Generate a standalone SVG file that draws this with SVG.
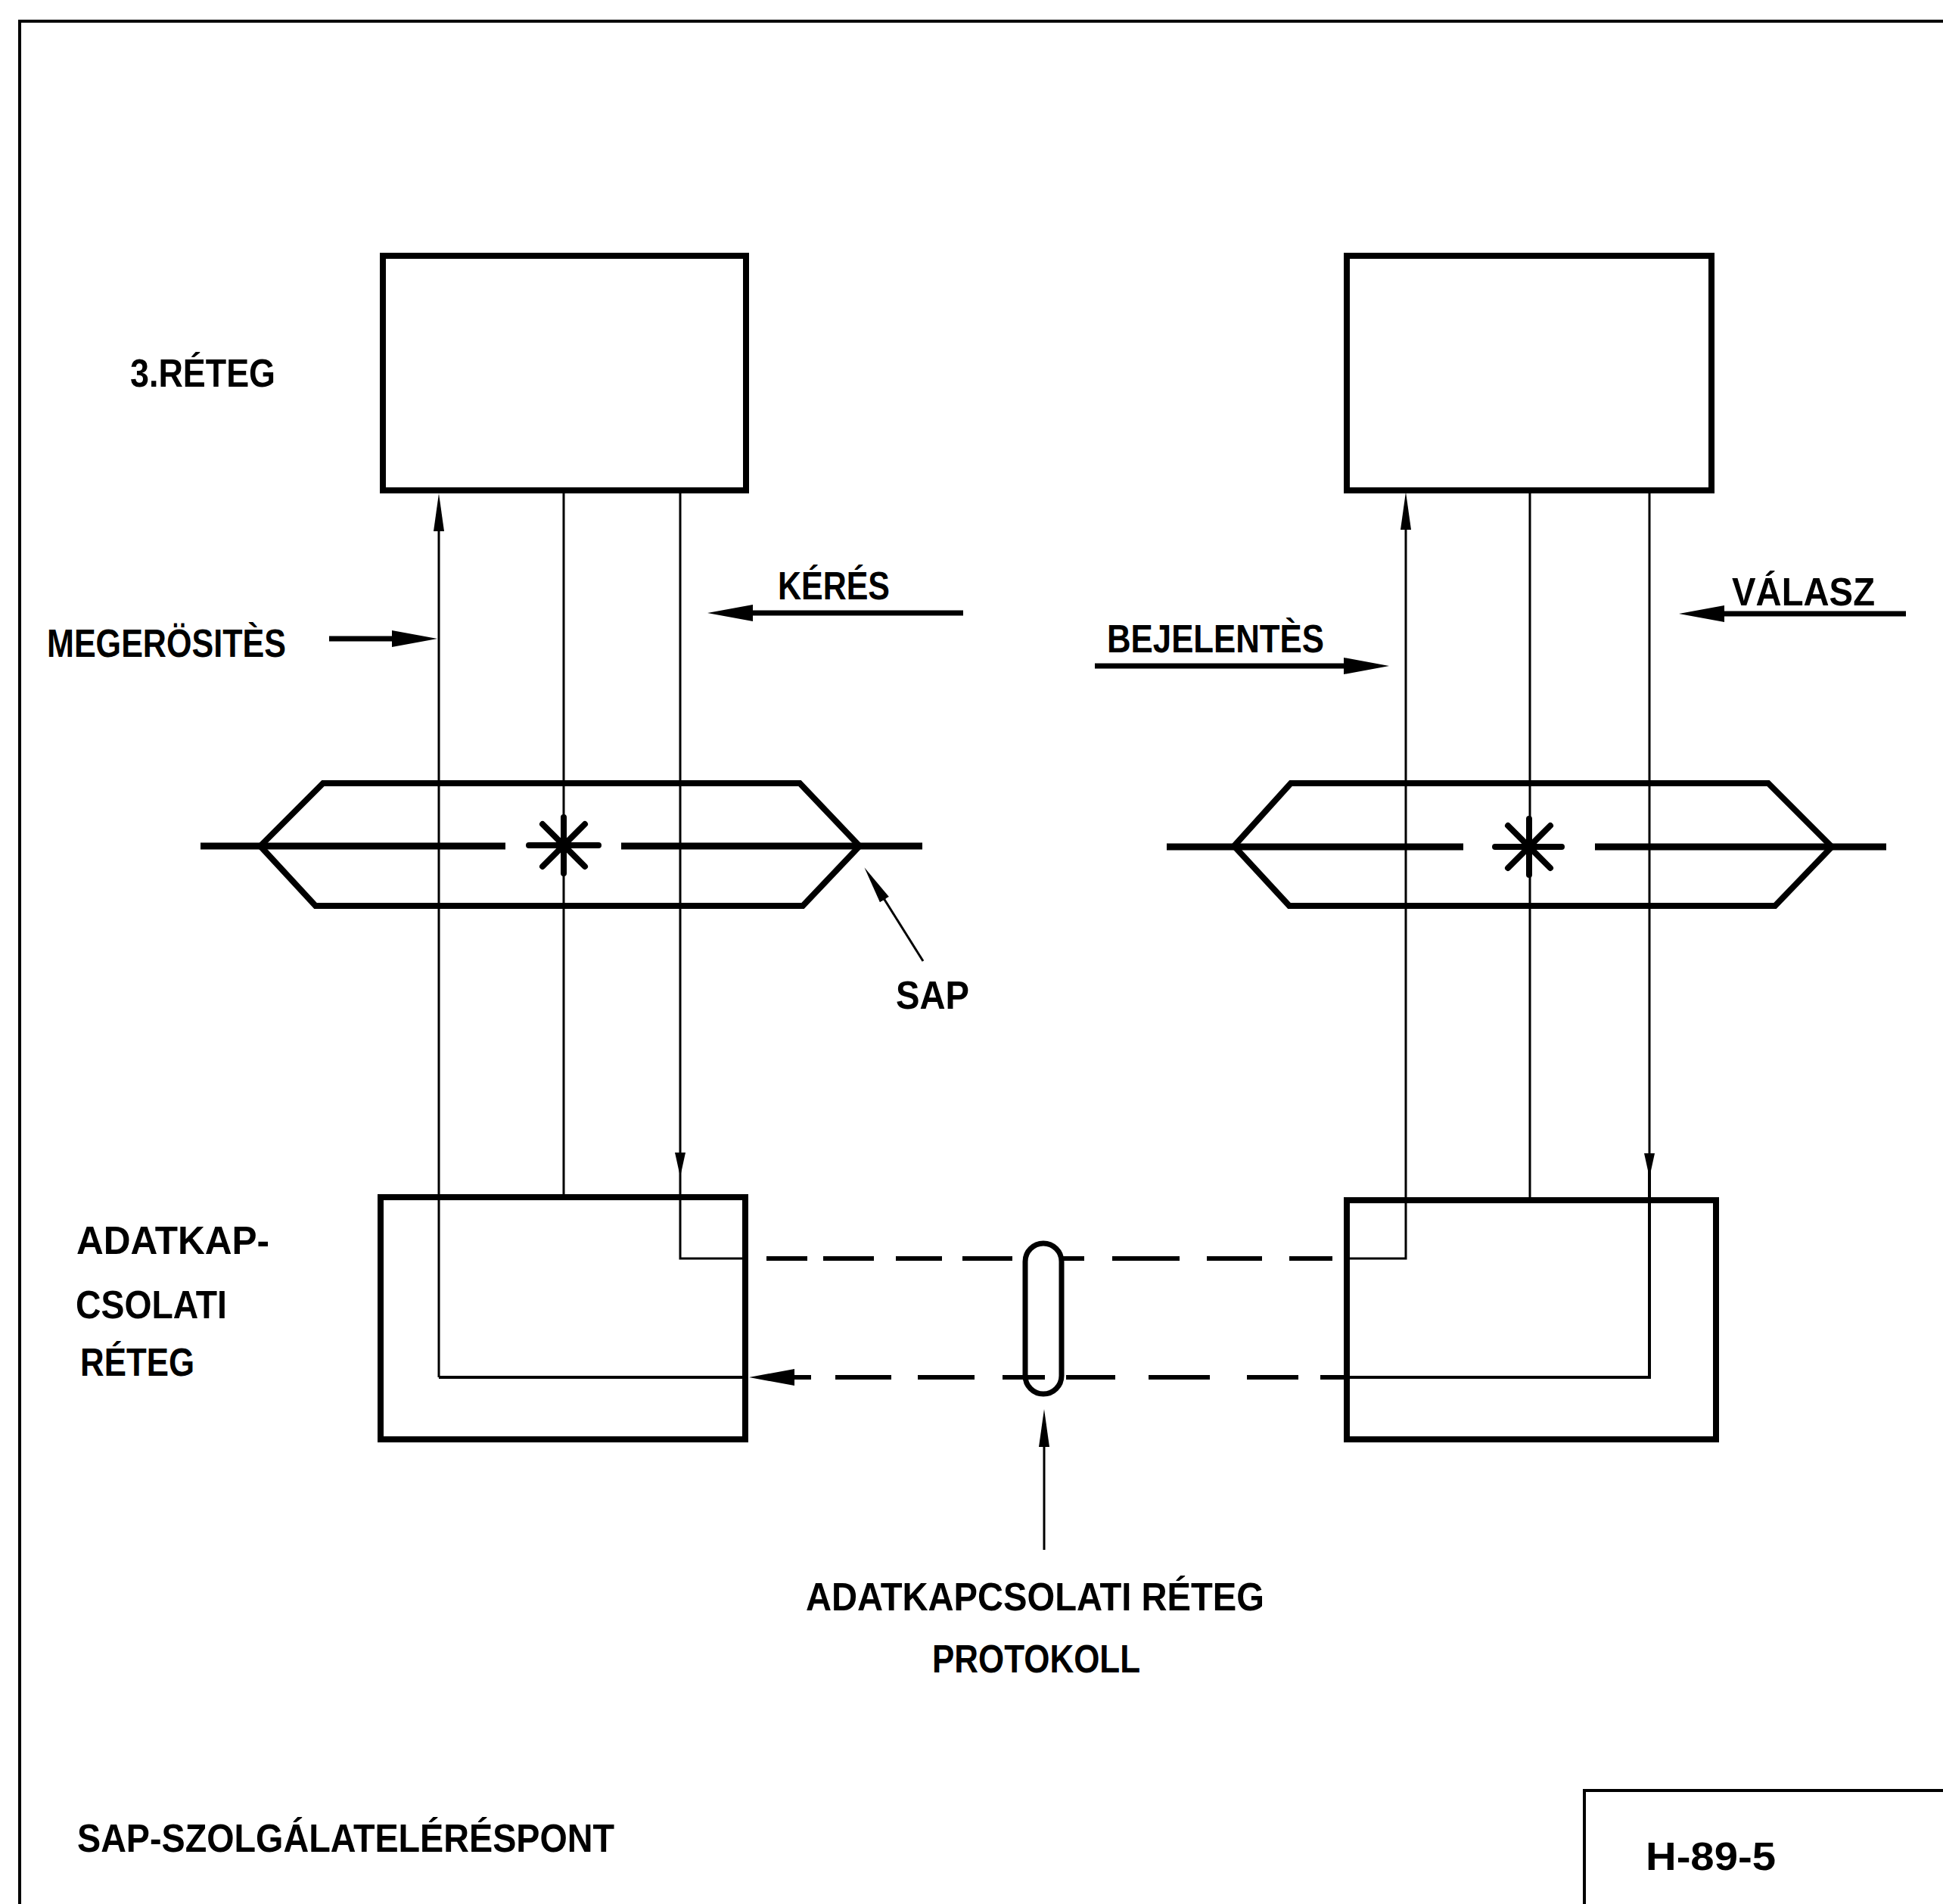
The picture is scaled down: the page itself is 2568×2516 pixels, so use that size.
<svg xmlns="http://www.w3.org/2000/svg" width="2568" height="2516" viewBox="0 0 2568 2516">
<style>
.bg{fill:#ffffff}
.frame{fill:none;stroke:#000;stroke-width:4}
.box{fill:none;stroke:#000;stroke-width:8;stroke-linejoin:miter}
.hex{fill:none;stroke:#000;stroke-width:8;stroke-linejoin:miter}
.axis{fill:none;stroke:#000;stroke-width:9}
.star{fill:none;stroke:#000;stroke-width:8;stroke-linecap:round}
.conn{fill:none;stroke:#000;stroke-width:3}
.connw{fill:none;stroke:#000;stroke-width:4}
.dash{fill:none;stroke:#000;stroke-width:6}
.oval{fill:none;stroke:#000;stroke-width:7}
.larrow{fill:none;stroke:#000;stroke-width:7}
.lbl{font-family:"Liberation Sans","DejaVu Sans",sans-serif;font-weight:bold;font-size:52px;fill:#000}
</style>
<defs>
<marker id="ab" viewBox="0 0 60 24" refX="20" refY="12" markerWidth="60" markerHeight="24" markerUnits="userSpaceOnUse" orient="auto"><path d="M0,1 L60,12 L0,23 Z" fill="#000"/></marker>
<marker id="at" viewBox="0 0 50 14" refX="15" refY="7" markerWidth="50" markerHeight="14" markerUnits="userSpaceOnUse" orient="auto"><path d="M0,0 L50,7 L0,14 Z" fill="#000"/></marker>
<marker id="as" viewBox="0 0 32 14" refX="10" refY="7" markerWidth="32" markerHeight="14" markerUnits="userSpaceOnUse" orient="auto"><path d="M0,0 L32,7 L0,14 Z" fill="#000"/></marker>
</defs>
<rect class="bg" x="0" y="0" width="2568" height="2516"/>

<g id="frame">
<path class="frame" d="M26,2516 V28 H2568"/>
<path class="frame" d="M2094,2516 V2366 H2568"/>
</g>

<g id="layer3-left">
<rect class="box" x="506" y="338" width="480" height="310"/>
</g>
<g id="layer3-right">
<rect class="box" x="1780" y="338" width="482" height="310"/>
</g>
<g id="layer2-left">
<rect class="box" x="503" y="1582" width="482" height="320"/>
</g>
<g id="layer2-right">
<rect class="box" x="1780" y="1586" width="488" height="316"/>
</g>

<g id="sap-left">
<polygon class="hex" points="344,1118 427,1035 1057,1035 1136,1118 1061,1197 417,1197"/>
<path class="axis" d="M265,1118 H668 M821,1118 H1219"/>
<path class="star" d="M699,1117 H791 M745,1080 V1154 M717,1089 L773,1145 M773,1089 L717,1145"/>
</g>
<g id="sap-right">
<polygon class="hex" points="1631,1118 1706,1035 2337,1035 2421,1119 2346,1197 1704,1197"/>
<path class="axis" d="M1542,1119 H1934 M2108,1119 H2493"/>
<path class="star" d="M1976,1119 H2064 M2021,1082 V1156 M1993,1091 L2049,1147 M2049,1091 L1993,1147"/>
</g>

<g id="protocol">
<rect class="oval" x="1355" y="1643" width="48" height="199" rx="24" ry="24"/>
</g>

<g id="connectors">
<!-- left side -->
<path class="connw" d="M985,1820 H580"/>
<path class="conn" d="M580,1820 V687" marker-end="url(#at)"/>
<path class="conn" d="M745,652 V1582"/>
<path class="conn" d="M899,652 V1533" marker-end="url(#as)"/>
<path class="conn" d="M899,1533 V1663 H985"/>
<!-- right side -->
<path class="conn" d="M1780,1663 H1858 V685" marker-end="url(#at)"/>
<path class="conn" d="M2022,652 V1586"/>
<path class="conn" d="M2180,652 V1534" marker-end="url(#as)"/>
<path class="connw" d="M2180,1534 V1820 H1780"/>
<!-- protocol dashed lines -->
<path class="dash" d="M1013,1663 H1067 M1088,1663 H1155 M1184,1663 H1245 M1272,1663 H1338 M1405,1663 H1433 M1470,1663 H1559 M1595,1663 H1668 M1704,1663 H1761"/>
<path class="dash" d="M1104,1820 H1178 M1213,1820 H1288 M1325,1820 H1381 M1409,1820 H1474 M1518,1820 H1599 M1648,1820 H1716 M1745,1820 H1782"/>
<path class="dash" d="M1072,1820 H1030" marker-end="url(#ab)"/>
<!-- label arrows -->
<path class="larrow" d="M435,844 H538" marker-end="url(#ab)"/>
<path class="larrow" d="M1273,810 H975" marker-end="url(#ab)"/>
<path class="larrow" d="M1447,880 H1796" marker-end="url(#ab)"/>
<path class="larrow" d="M2519,811 H2259" marker-end="url(#ab)"/>
<path class="conn" d="M1220,1270 L1161,1176" marker-end="url(#at)"/>
<path class="conn" d="M1380,2048 V1897" marker-end="url(#at)"/>
</g>

<g id="labels">
<text class="lbl" x="172" y="511" textLength="192" lengthAdjust="spacingAndGlyphs">3.RÉTEG</text>
<text class="lbl" x="62" y="868" textLength="316" lengthAdjust="spacingAndGlyphs">MEGERÖSITÈS</text>
<text class="lbl" x="1028" y="792" textLength="148" lengthAdjust="spacingAndGlyphs">KÉRÉS</text>
<text class="lbl" x="1463" y="862" textLength="287" lengthAdjust="spacingAndGlyphs">BEJELENTÈS</text>
<text class="lbl" x="2289" y="800" textLength="189" lengthAdjust="spacingAndGlyphs">VÁLASZ</text>
<text class="lbl" x="1184" y="1333" textLength="97" lengthAdjust="spacingAndGlyphs">SAP</text>
<text class="lbl" x="101" y="1657" textLength="255" lengthAdjust="spacingAndGlyphs">ADATKAP-</text>
<text class="lbl" x="100" y="1742" textLength="200" lengthAdjust="spacingAndGlyphs">CSOLATI</text>
<text class="lbl" x="106" y="1818" textLength="151" lengthAdjust="spacingAndGlyphs">RÉTEG</text>
<text class="lbl" x="1065" y="2128" textLength="606" lengthAdjust="spacingAndGlyphs">ADATKAPCSOLATI RÉTEG</text>
<text class="lbl" x="1232" y="2210" textLength="275" lengthAdjust="spacingAndGlyphs">PROTOKOLL</text>
<text class="lbl" x="102" y="2447" textLength="710" lengthAdjust="spacingAndGlyphs">SAP-SZOLGÁLATELÉRÉSPONT</text>
<text class="lbl" x="2175" y="2471" textLength="172" lengthAdjust="spacingAndGlyphs">H-89-5</text>
</g>
</svg>
